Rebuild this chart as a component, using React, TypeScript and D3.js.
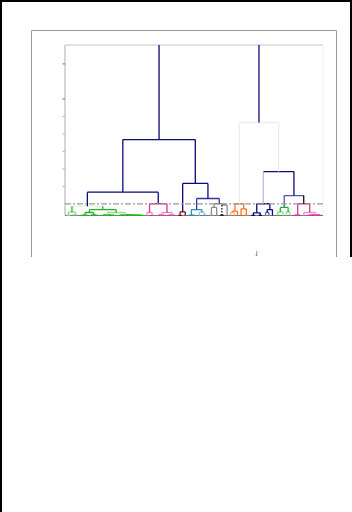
import React from "react";
import * as d3 from "d3";

// ---- data ----
type Node = { h: number; c: string; k: Node[] | null; s?: string; dash?: boolean };
const o: Node = { h: 0, c: "", k: null }; // leaf marker
const n = (h: number, c: string, k: Node[], s?: string, dash?: boolean): Node => ({ h, c, k, s, dash });

const NAVY = "#0a0a78";
const G = "#22b422";
const LG = "#8fe08f";
const PALE = "#dcf3dc";
const P = "#dd2f9c";
const LP = "#f28fcd";
const MAROON = "#7a1010";
const TEAL = "#2f8fbf";
const LTEAL = "#8ec8e4";
const GRAY = "#8c8c8c";
const BLACK = "#111111";
const ORANGE = "#ff7420";
const LORANGE = "#ffb487";
const LNAVY = "#6a6ab8";
const LAV = "#bcbce4";
const FAINT = "#ececf6";
const INDIGO = "#34349c";
const INDIGO2 = "#5454a8";

const gA = n(0.2, LG, [n(0.02, LG, [o, o]), n(0.05, LG, [o, o])], G);
const gB = n(0.17, G, [n(0.02, G, [n(0.01, G, [o, o]), o]), n(0.03, G, [o, n(0.01, G, [o, o])])]);
const gC = n(0.17, LG, [
  n(0.03, G, [n(0.01, G, [o, o]), n(0.02, G, [o, n(0.01, G, [o, o])])]),
  n(0.04, G, [n(0.01, G, [o, o]), n(0.03, G, [o, n(0.025, G, [o, n(0.02, G, [o, n(0.015, G, [o, n(0.01, G, [o, o])])])])])]),
], G);
const greenCluster = n(0.53, PALE, [gA, n(0.34, G, [gB, gC], G)]);

const pinkCluster = n(0.67, P, [
  n(0.17, LP, [o, n(0.01, P, [o, o])]),
  n(0.17, LP, [n(0.02, P, [n(0.01, P, [o, o]), o]), n(0.02, P, [n(0.01, P, [o, o]), o])]),
]);

const maroonCluster = n(0.21, MAROON, [n(0.01, MAROON, [o, o]), o]);
const tealCluster = n(0.34, TEAL, [n(0.02, TEAL, [o, n(0.01, TEAL, [o, o])]), n(0.19, LTEAL, [o, n(0.01, TEAL, [o, o])], TEAL)]);
const grayCluster = n(0.67, GRAY, [
  n(0.46, GRAY, [n(0.01, GRAY, [o, o]), o]),
  n(0.6, GRAY, [n(0.02, BLACK, [o, o], BLACK, true), o]),
]);
const orangeCluster = n(0.67, ORANGE, [
  n(0.25, ORANGE, [n(0.18, LORANGE, [o, o]), o]),
  n(0.38, ORANGE, [o, n(0.01, ORANGE, [o, o])]),
], FAINT);
const navyCluster = n(0.67, NAVY, [
  n(0.15, NAVY, [n(0.01, NAVY, [o, o]), n(0.01, NAVY, [o, o])]),
  n(0.34, NAVY, [n(0.17, LNAVY, [o, o]), o]),
], LAV);
const green2Cluster = n(0.46, G, [n(0.2, LG, [n(0.01, G, [o, o]), o], G), n(0.2, LG, [o, o], G)]);
const pink2Cluster = n(0.67, P, [
  n(0.02, P, [n(0.01, P, [o, o]), o]),
  n(0.17, LP, [o, n(0.04, P, [n(0.02, P, [n(0.01, P, [o, o]), o]), n(0.01, P, [o, o])])], P),
], BLACK);

const leftBranch = n(4.34, NAVY, [
  n(1.33, NAVY, [greenCluster, pinkCluster]),
  n(1.83, NAVY, [maroonCluster, n(0.97, INDIGO, [tealCluster, grayCluster])]),
]);
const rightBranch = n(5.31, FAINT, [
  orangeCluster,
  n(2.51, NAVY, [navyCluster, n(1.14, INDIGO2, [green2Cluster, pink2Cluster])]),
], NAVY);
const tree = n(12, NAVY, [leftBranch, rightBranch]);

const yTicks = [1.66, 2.66, 3.66, 4.66, 5.66, 6.66, 8.66];
const threshold = 0.66;
const yMax = 9.74;

// ---- layout ----
const PL = 65, PR = 323, PT = 45, PB = 215.5;

function countLeaves(t: Node): number {
  return t.k ? t.k.reduce((a, c) => a + countLeaves(c), 0) : 1;
}

type Seg = { x1: number; y1: number; x2: number; y2: number; c: string; dash?: boolean };

export default function App() {
  const N = countLeaves(tree);
  const x = d3.scaleLinear().domain([0, N]).range([PL, PR]);
  const y = d3.scaleLinear().domain([0, yMax]).range([PB, PT]);
  const segs: Seg[] = [];
  let idx = 0;
  function place(t: Node): number {
    if (!t.k) {
      const px = x(idx + 0.5);
      idx++;
      return px;
    }
    const xs = t.k.map(place);
    const px = d3.mean(xs) as number;
    t.k.forEach((ch, i) => {
      segs.push({ x1: xs[i], x2: xs[i], y1: y(t.h), y2: y(ch.h), c: ch.s ?? t.c, dash: ch.dash });
    });
    segs.push({ x1: xs[0], x2: xs[xs.length - 1], y1: y(t.h), y2: y(t.h), c: t.c });
    return px;
  }
  place(tree);
  const ordered = [...segs.filter((s) => s.x1 !== s.x2), ...segs.filter((s) => s.x1 === s.x2)];

  return (
    <svg width={352} height={512} style={{ position: "absolute", left: 0, top: 0, background: "#fff" }}>
      <defs>
        <clipPath id="plot">
          <rect x={PL} y={PT} width={PR - PL} height={PB - PT + 1} />
        </clipPath>
      </defs>
      {/* outer frame */}
      <line x1={0} x2={352} y1={1} y2={1} stroke="#000" strokeWidth={2} />
      <line x1={1} x2={1} y1={0} y2={512} stroke="#000" strokeWidth={2} />
      <line x1={351} x2={351} y1={0} y2={257} stroke="#000" strokeWidth={2} />
      {/* gray box */}
      <path d="M31.5,257 V30.5 H336.5 V257" fill="none" stroke="#9a9a9a" strokeWidth={1} />
      {/* plot frame */}
      <line x1={PL} x2={PR} y1={PT} y2={PT} stroke="#d8d8d8" strokeWidth={1.3} />
      <line x1={PR} x2={PR} y1={PT} y2={PB} stroke="#efefef" strokeWidth={1} />
      <line x1={PL} x2={PL} y1={PT} y2={PB} stroke="#c4c4c4" strokeWidth={1.4} />
      <line x1={PL} x2={PR} y1={PB} y2={PB} stroke="#777" strokeWidth={1.1} />
      {yTicks.map((t) => (
        <line key={t} x1={PL - 2.5} x2={PL} y1={y(t)} y2={y(t)} stroke={t > 6 ? "#888" : "#bbb"} strokeWidth={1.2} />
      ))}
      <g clipPath="url(#plot)">
        {ordered.map((s, i) => (
          <line key={i} x1={s.x1} x2={s.x2} y1={s.y1} y2={s.y2} stroke={s.c} strokeWidth={1.3}
            strokeDasharray={s.dash ? "1.5,1.5" : undefined} />
        ))}
      </g>
      <line x1={PL} x2={PR} y1={y(threshold)} y2={y(threshold)} stroke="#9a9a9a" strokeWidth={1.3} strokeDasharray="6,2,2,2" />
      <text x={256} y={255} fontSize={5} fontFamily="DejaVu Sans" fill="#000">J</text>
    </svg>
  );
}
